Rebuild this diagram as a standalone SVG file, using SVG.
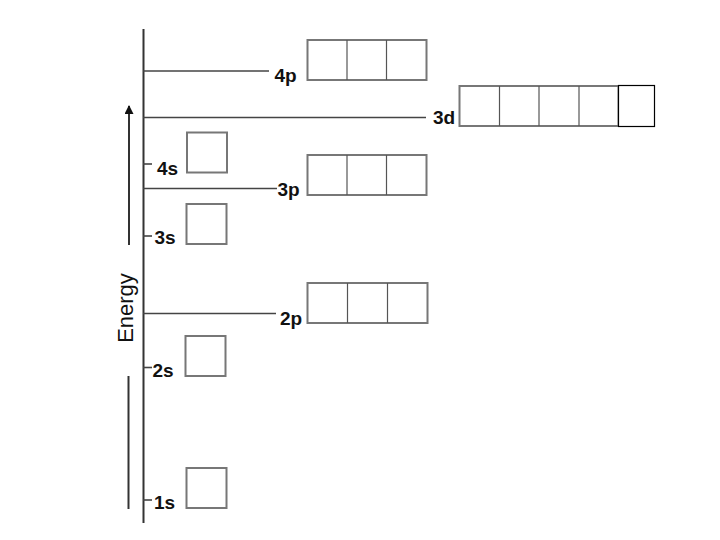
<svg xmlns="http://www.w3.org/2000/svg" width="720" height="540" viewBox="0 0 720 540">
<defs>
<marker id="ah" viewBox="0 0 10 10" refX="9" refY="5" markerWidth="10" markerHeight="9" orient="auto" markerUnits="userSpaceOnUse">
<path d="M0,0 L10,5 L0,10 z" fill="#111"/>
</marker>
</defs>
<style>
.ax{stroke:#333;stroke-width:2;fill:none}
.lv{stroke:#444;stroke-width:1.6;fill:none}
.bx{fill:#fff;stroke:#777;stroke-width:2}
.dv{stroke:#555;stroke-width:1.2}
.lb{font-family:"Liberation Sans",Arial,sans-serif;font-size:19px;font-weight:bold;fill:#111}
.en{font-family:"Liberation Sans",Arial,sans-serif;font-size:22px;fill:#111}
</style>
<rect width="720" height="540" fill="#fff"/>
<g id="connectors">
<line class="ax" x1="143.5" y1="29" x2="143.5" y2="523"/>
<line class="ax" x1="129" y1="245" x2="129" y2="106" marker-end="url(#ah)"/>
<line class="ax" x1="128.5" y1="376" x2="128.5" y2="509"/>
<line class="lv" x1="143" y1="71" x2="269" y2="71"/>
<line class="lv" x1="143" y1="117.5" x2="426" y2="117.5"/>
<line class="lv" x1="143" y1="164" x2="152" y2="164"/>
<line class="lv" x1="143" y1="188.5" x2="277" y2="188.5"/>
<line class="lv" x1="143" y1="236" x2="152" y2="236"/>
<line class="lv" x1="143" y1="313.5" x2="276" y2="313.5"/>
<line class="lv" x1="143" y1="367.5" x2="152" y2="367.5"/>
<line class="lv" x1="143" y1="500" x2="152" y2="500"/>
</g>
<g id="energy"><text class="en" transform="translate(133,308) rotate(-90)" text-anchor="middle">Energy</text></g>
<g id="n4p">
<text class="lb" x="274.5" y="81.5">4p</text>
<rect class="bx" x="307.5" y="40" width="119" height="40"/>
<line class="dv" x1="347" y1="40" x2="347" y2="80"/>
<line class="dv" x1="386.5" y1="40" x2="386.5" y2="80"/>
</g>
<g id="n3d">
<text class="lb" x="433" y="124">3d</text>
<rect class="bx" x="459.5" y="86" width="159" height="40"/>
<line class="dv" x1="499.5" y1="86" x2="499.5" y2="126"/>
<line class="dv" x1="539" y1="86" x2="539" y2="126"/>
<line class="dv" x1="579" y1="86" x2="579" y2="126"/>
<rect x="618.5" y="85.5" width="36" height="41" fill="#fff" stroke="#000" stroke-width="1.2"/>
</g>
<g id="n4s">
<text class="lb" x="157" y="174.5">4s</text>
<rect class="bx" x="187" y="132.5" width="40" height="40"/>
</g>
<g id="n3p">
<text class="lb" x="277.5" y="196">3p</text>
<rect class="bx" x="307.5" y="155" width="119" height="40"/>
<line class="dv" x1="347" y1="155" x2="347" y2="195"/>
<line class="dv" x1="386.5" y1="155" x2="386.5" y2="195"/>
</g>
<g id="n3s">
<text class="lb" x="154.5" y="243.5">3s</text>
<rect class="bx" x="186.5" y="204" width="40" height="40"/>
</g>
<g id="n2p">
<text class="lb" x="280" y="324.5">2p</text>
<rect class="bx" x="307.5" y="283" width="120" height="40"/>
<line class="dv" x1="347.5" y1="283" x2="347.5" y2="323"/>
<line class="dv" x1="387.5" y1="283" x2="387.5" y2="323"/>
</g>
<g id="n2s">
<text class="lb" x="152.5" y="376.5">2s</text>
<rect class="bx" x="185.5" y="336" width="40" height="40"/>
</g>
<g id="n1s">
<text class="lb" x="154" y="508.5">1s</text>
<rect class="bx" x="186.5" y="468" width="40" height="40"/>
</g>
</svg>
